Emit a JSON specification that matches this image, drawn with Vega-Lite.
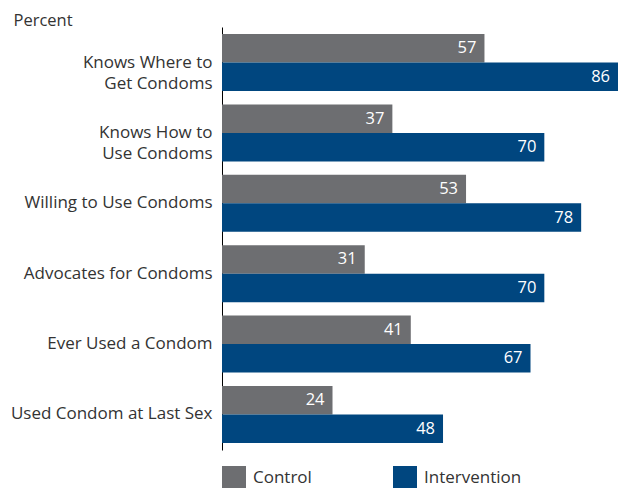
{
  "$schema": "https://vega.github.io/schema/vega-lite/v6.json",
  "width": 396,
  "height": 423,
  "autosize": {"type": "none"},
  "padding": {"left": 222, "top": 27, "right": 0, "bottom": 38},
  "config": {"view": {"stroke": null}, "font": "Open Sans"},
  "data": {
    "values": [
      {"item": "Knows Where to|Get Condoms", "series": "Control", "value": 57},
      {"item": "Knows Where to|Get Condoms", "series": "Intervention", "value": 86},
      {"item": "Knows How to|Use Condoms", "series": "Control", "value": 37},
      {"item": "Knows How to|Use Condoms", "series": "Intervention", "value": 70},
      {"item": "Willing to Use Condoms", "series": "Control", "value": 53},
      {"item": "Willing to Use Condoms", "series": "Intervention", "value": 78},
      {"item": "Advocates for Condoms", "series": "Control", "value": 31},
      {"item": "Advocates for Condoms", "series": "Intervention", "value": 70},
      {"item": "Ever Used a Condom", "series": "Control", "value": 41},
      {"item": "Ever Used a Condom", "series": "Intervention", "value": 67},
      {"item": "Used Condom at Last Sex", "series": "Control", "value": 24},
      {"item": "Used Condom at Last Sex", "series": "Intervention", "value": 48}
    ]
  },
  "encoding": {
    "y": {
      "field": "item",
      "type": "nominal",
      "sort": null,
      "scale": {"paddingInner": 0.19, "paddingOuter": 0.1},
      "axis": {
        "domain": true,
        "domainColor": "#000000",
        "domainWidth": 1,
        "ticks": false,
        "labelPadding": 10,
        "labelFontSize": 17,
        "labelColor": "#333333",
        "labelLimit": 300,
        "labelExpr": "split(datum.label, '|')",
        "labelLineHeight": 21,
        "title": "Percent",
        "titleAngle": 0,
        "titleX": -209,
        "titleY": -2,
        "titleAlign": "left",
        "titleBaseline": "alphabetic",
        "titleFontWeight": "normal",
        "titleFontSize": 16.5,
        "titleColor": "#333333"
      }
    },
    "yOffset": {"field": "series", "sort": ["Control", "Intervention"], "scale": {"paddingInner": 0, "paddingOuter": 0}},
    "x": {"field": "value", "type": "quantitative", "scale": {"domain": [0, 86], "nice": false}, "axis": null}
  },
  "layer": [
    {
      "mark": {"type": "bar"},
      "encoding": {
        "color": {
          "field": "series",
          "type": "nominal",
          "scale": {"domain": ["Control", "Intervention"], "range": ["#6d6e71", "#00467f"]},
          "legend": {
            "title": null,
            "orient": "none",
            "direction": "horizontal",
            "legendX": 0,
            "legendY": 439,
            "padding": 0,
            "symbolType": "square",
            "symbolSize": 576,
            "symbolStrokeWidth": 0,
            "symbolOpacity": 1,
            "labelFontSize": 17,
            "labelColor": "#333333",
            "labelOffset": 7,
            "columnPadding": 81
          }
        }
      }
    },
    {
      "mark": {"type": "text", "align": "right", "baseline": "middle", "dx": -8, "color": "#ffffff", "fontSize": 16.5},
      "encoding": {"text": {"field": "value", "type": "quantitative"}}
    }
  ]
}
